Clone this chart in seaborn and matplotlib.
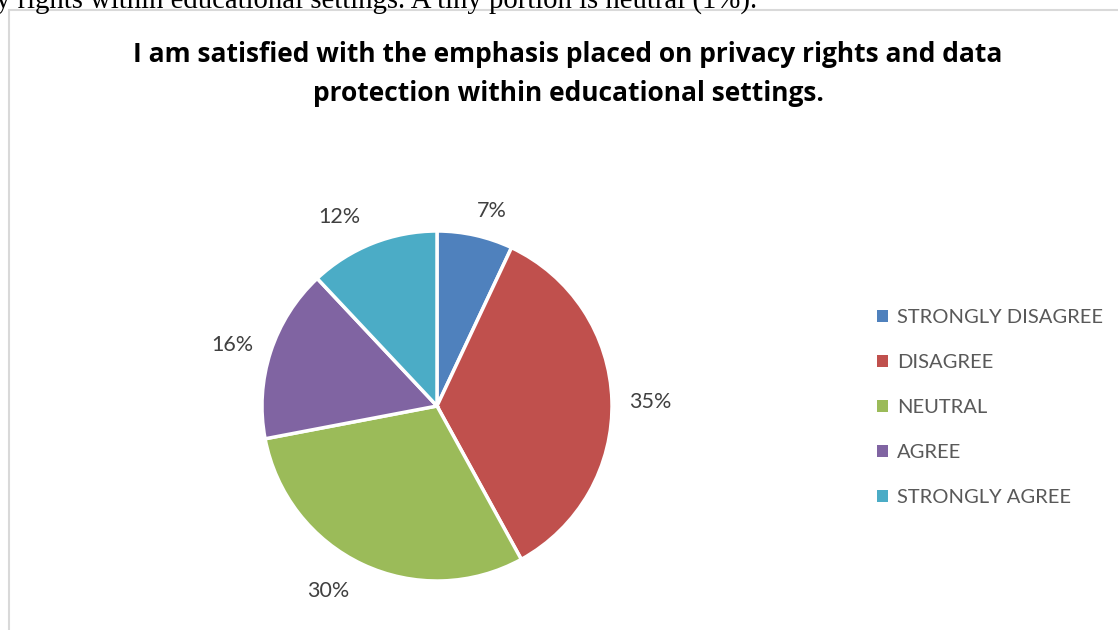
import matplotlib
matplotlib.use("Agg")
import matplotlib.pyplot as plt
from matplotlib.lines import Line2D
import seaborn as sns

categories = ["STRONGLY DISAGREE", "DISAGREE", "NEUTRAL", "AGREE", "STRONGLY AGREE"]
shares = [7, 35, 30, 16, 12]
colors = ["#4F81BD", "#C0504D", "#9BBB59", "#8064A2", "#4BACC6"]
title = ("I am satisfied with the emphasis placed on privacy rights and data\n"
         "protection within educational settings.")
body_line = "y rights within educational settings. A tiny portion is neutral (1%)."

# best-fit nudges for the percentage labels, in pixels (right, down)
label_nudge = [(8, 13), (0, 3), (-18, -8), (-2, 5), (-19, 10)]

sns.set_theme(style="white")
plt.rcParams["font.family"] = ["Open Sans", "DejaVu Sans"]

W, H = 1118, 630
fig = plt.figure(figsize=(W / 100, H / 100), dpi=100)
fig.patch.set_facecolor("white")

# running document text above the chart frame
fig.text(-4 / W, 1 - 8 / H, body_line, family="Liberation Serif", fontsize=20.7,
         color="black", ha="left", va="baseline")

# chart frame (left and top edges)
frame = "#D9D9D9"
fig.add_artist(Line2D([9 / W, 9 / W], [0, 1 - 10 / H], transform=fig.transFigure,
                      color=frame, lw=1.5))
fig.add_artist(Line2D([9 / W, 1], [1 - 10 / H, 1 - 10 / H], transform=fig.transFigure,
                      color=frame, lw=1.5))

fig.text(568 / W, 1 - 74 / H, title, ha="center", va="center", fontsize=19,
         fontweight="bold", color="black", linespacing=1.6)

cx, cy, r = 437, 406, 175
ax = fig.add_axes([(cx - r) / W, (H - cy - r) / H, 2 * r / W, 2 * r / H])
wedges, texts, autotexts = ax.pie(
    shares, colors=colors, startangle=90, counterclock=False,
    autopct=lambda p: f"{p:.0f}%", pctdistance=1.22,
    wedgeprops=dict(edgecolor="white", linewidth=2.5),
    textprops=dict(fontsize=15.5, color="#404040", family="Lato"),
)
for t, (dx, dy) in zip(autotexts, label_nudge):
    x, y = t.get_position()
    t.set_position((x + dx / r, y - dy / r))
ax.set_aspect("equal")
ax.set_xlim(-1, 1)
ax.set_ylim(-1, 1)
ax.axis("off")

handles = [plt.Rectangle((0, 0), 1, 1, facecolor=c, edgecolor="none") for c in colors]
leg = fig.legend(handles, categories, loc="upper left",
                 bbox_to_anchor=(869 / W, 1 - 301 / H), frameon=False,
                 prop=dict(family="Lato", size=14.5), handlelength=0.52, handleheight=0.52,
                 handletextpad=0.47, labelspacing=1.39, borderaxespad=0)
for t in leg.get_texts():
    t.set_color("#595959")

fig.savefig("out.png", dpi=100, facecolor="white")
